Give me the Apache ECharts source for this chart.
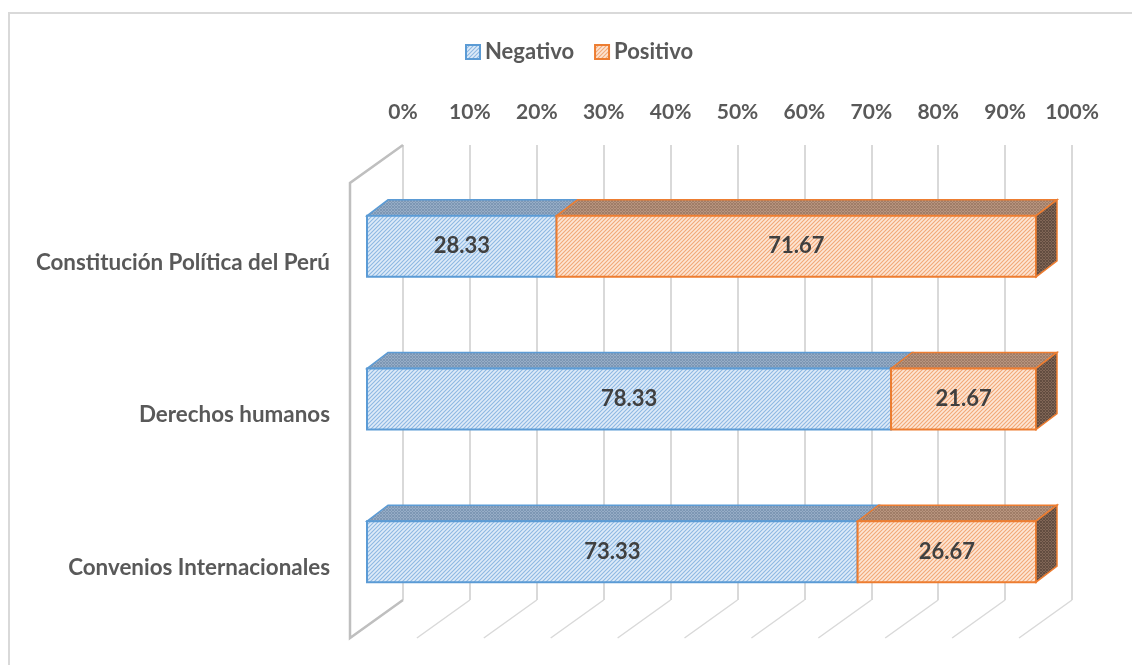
<!DOCTYPE html>
<html>
<head>
<meta charset="utf-8">
<script src="https://cdn.jsdelivr.net/npm/echarts@6/dist/echarts.min.js"></script>
<style>
  html, body { margin: 0; padding: 0; background: #fff; overflow: hidden; }
  #frame { position: absolute; left: 8px; top: 12px; width: 1140px; height: 700px; border: 2px solid #d9d9d9; }
  #main { position: absolute; left: 0; top: 0; width: 1132px; height: 665px; }
</style>
</head>
<body>
<div id="frame"></div>
<div id="main"></div>
<script>
const categories = ['Constitución Política del Perú', 'Derechos humanos', 'Convenios Internacionales'];
const negativo = [28.33, 78.33, 73.33];
const positivo = [71.67, 21.67, 26.67];
const ticks = [0, 10, 20, 30, 40, 50, 60, 70, 80, 90, 100];

const FONT = 'Lato, "Open Sans", sans-serif';
const DX = 21, DY = -16;       // profundidad de las barras
const WX = -53, WY = 38;       // profundidad de pared / piso

// patrón rayado
function hatch (bg, fg, step, cross) {
  let c = document.createElement('canvas');
  c.width = step; c.height = step;
  let ctx = c.getContext('2d');
  ctx.fillStyle = bg;
  ctx.fillRect(0, 0, step, step);
  ctx.strokeStyle = fg;
  ctx.lineWidth = 1.1;
  ctx.beginPath();
  ctx.moveTo(-1, step + 1); ctx.lineTo(step + 1, -1);
  ctx.moveTo(-1, 1); ctx.lineTo(1, -1);
  ctx.moveTo(step - 1, step + 1); ctx.lineTo(step + 1, step - 1);
  if (cross) {
    ctx.moveTo(-1, -1); ctx.lineTo(step + 1, step + 1);
    ctx.moveTo(step - 1, -1); ctx.lineTo(step + 1, 1);
    ctx.moveTo(-1, step - 1); ctx.lineTo(1, step + 1);
  }
  ctx.stroke();
  return { image: c, repeat: 'repeat' };
}

const styles = {
  neg: {
    border: '#5b9bd5',
    front: hatch('#deebf8', '#8db8e2', 4, false),
    top: hatch('#b3c4d8', '#7b95b3', 3, true),
    side: hatch('#8ea0b6', '#566c86', 3, true)
  },
  pos: {
    border: '#ed7d31',
    front: hatch('#fde6d5', '#f2a877', 4, false),
    top: hatch('#d2ae96', '#9d7b66', 3, true),
    side: hatch('#a3836f', '#5f4a3e', 3, true)
  }
};

function barRenderer (st, isLast) {
  return function (params, api) {
    let s = api.value(0), e = api.value(1), c = api.value(2);
    let p0 = api.coord([s, c]);
    let p1 = api.coord([e, c]);
    let h = api.size([0, 1])[1] * 0.4;
    let top = p0[1] - h / 2, bot = p0[1] + h / 2;
    let x0 = p0[0], x1 = p1[0];
    let children = [
      {
        type: 'polygon',
        shape: { points: [[x0, top], [x1, top], [x1 + DX, top + DY], [x0 + DX, top + DY]] },
        style: { fill: st.top, stroke: st.border, lineWidth: 1.5 }
      },
      {
        type: 'rect',
        shape: { x: x0, y: top, width: x1 - x0, height: h },
        style: { fill: st.front, stroke: st.border, lineWidth: 2 }
      }
    ];
    if (isLast) {
      children.push({
        type: 'polygon',
        shape: { points: [[x1, top], [x1 + DX, top + DY], [x1 + DX, bot + DY], [x1, bot]] },
        style: { fill: st.side, stroke: st.border, lineWidth: 1.5 }
      });
    }
    children.push({
      type: 'text',
      style: {
        text: (e - s).toFixed(2),
        x: (x0 + x1) / 2, y: p0[1],
        align: 'center', verticalAlign: 'middle',
        font: 'bold 22px ' + FONT,
        fill: '#404040'
      }
    });
    return { type: 'group', children: children };
  };
}

function wallRenderer (params, api) {
  let cs = params.coordSys;
  let v = api.value(0);
  let x = api.coord([v, 0])[0];
  let yb = cs.y + cs.height;
  let children = [];
  if (v === 0) {
    children.push({
      type: 'polyline',
      shape: { points: [[x, cs.y], [x + WX, cs.y + WY], [x + WX, yb + WY], [x, yb]] },
      style: { stroke: '#bfbfbf', lineWidth: 2.5, fill: null }
    });
  } else {
    children.push({
      type: 'line',
      shape: { x1: x, y1: yb, x2: x + WX, y2: yb + WY },
      style: { stroke: '#d9d9d9', lineWidth: 1.5 }
    });
  }
  return { type: 'group', children: children };
}

let negData = negativo.map((v, i) => [0, v, i]);
let posData = positivo.map((v, i) => [negativo[i], negativo[i] + v, i]);

let myChart = echarts.init(document.getElementById('main'));
myChart.setOption({
  animation: false,
  textStyle: { fontFamily: FONT },
  legend: {
    top: 36,
    left: 460,
    itemWidth: 14,
    itemHeight: 14,
    itemGap: 20,
    icon: 'rect',
    textStyle: { color: '#595959', fontSize: 22, fontWeight: 'bold', fontFamily: FONT },
    data: ['Negativo', 'Positivo']
  },
  grid: [
    { left: 403, right: 60, top: 145, bottom: 65 },
    { left: 367, right: 96, top: 170, bottom: 37 }
  ],
  xAxis: [
    {
      gridIndex: 0,
      type: 'value',
      position: 'top',
      min: 0,
      max: 100,
      interval: 10,
      axisLine: { show: false },
      axisTick: { show: false },
      axisLabel: {
        formatter: '{value}%',
        margin: 22,
        color: '#595959',
        fontSize: 21,
        fontWeight: 'bold',
        fontFamily: FONT
      },
      splitLine: { show: true, lineStyle: { color: '#d9d9d9', width: 2 } }
    },
    {
      gridIndex: 1,
      type: 'value',
      min: 0,
      max: 100,
      show: false
    }
  ],
  yAxis: [
    {
      gridIndex: 0,
      type: 'category',
      data: categories,
      show: false
    },
    {
      gridIndex: 1,
      type: 'category',
      inverse: true,
      data: categories,
      axisLine: { show: false },
      axisTick: { show: false },
      splitLine: { show: false },
      axisLabel: {
        margin: 37,
        verticalAlign: 'top',
        padding: [5, 0, 0, 0],
        color: '#595959',
        fontSize: 22.4,
        fontWeight: 'bold',
        fontFamily: FONT
      }
    }
  ],
  series: [
    {
      type: 'custom',
      name: 'pared',
      xAxisIndex: 0,
      yAxisIndex: 0,
      silent: true,
      renderItem: wallRenderer,
      data: ticks.map(t => [t]),
      z: 1
    },
    {
      type: 'custom',
      name: 'Negativo',
      xAxisIndex: 1,
      yAxisIndex: 1,
      renderItem: barRenderer(styles.neg, false),
      itemStyle: { color: styles.neg.front, borderColor: styles.neg.border, borderWidth: 1.5 },
      encode: { x: [0, 1], y: 2 },
      data: negData,
      z: 3
    },
    {
      type: 'custom',
      name: 'Positivo',
      xAxisIndex: 1,
      yAxisIndex: 1,
      renderItem: barRenderer(styles.pos, true),
      itemStyle: { color: styles.pos.front, borderColor: styles.pos.border, borderWidth: 1.5 },
      encode: { x: [0, 1], y: 2 },
      data: posData,
      z: 3
    }
  ]
});
</script>
</body>
</html>
